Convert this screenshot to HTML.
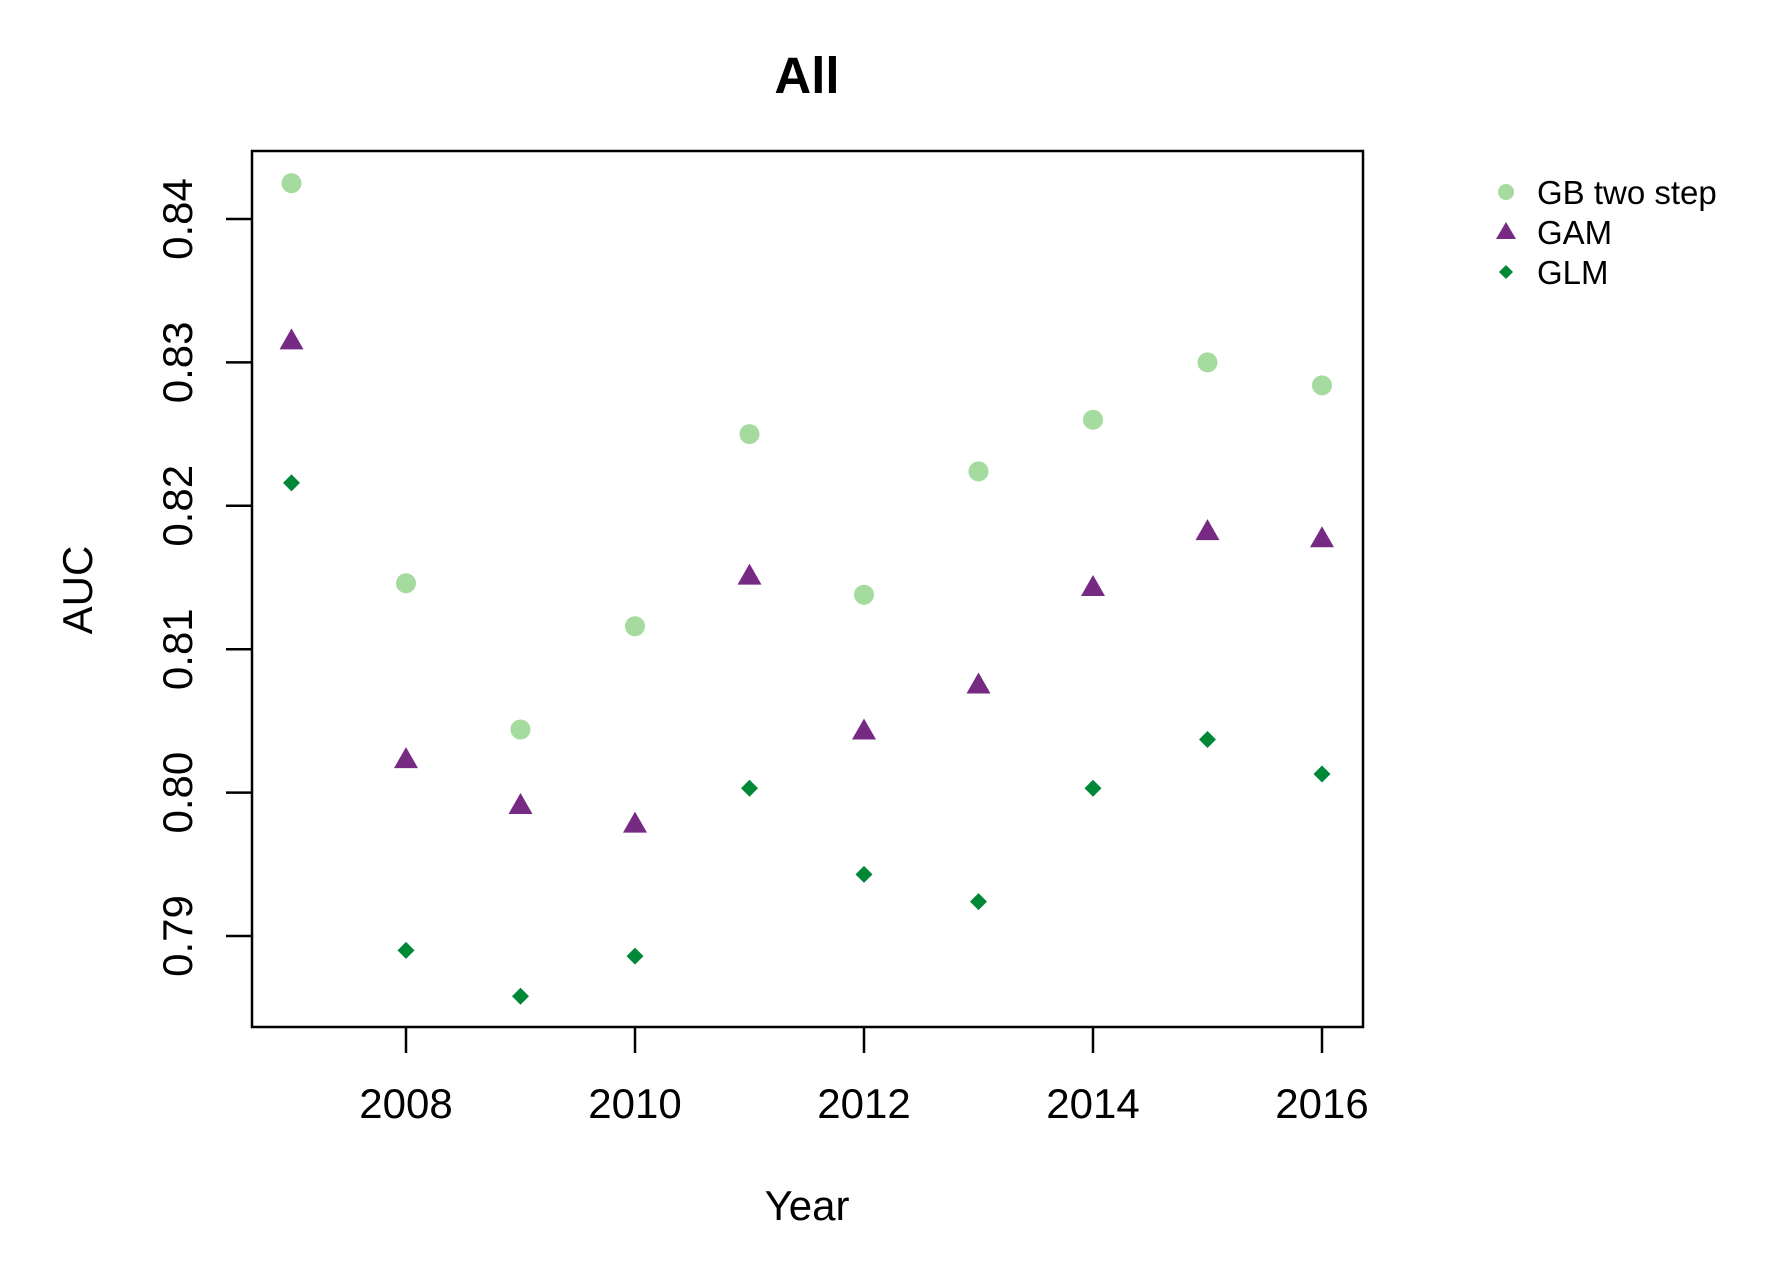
<!DOCTYPE html>
<html><head><meta charset="utf-8"><style>
html,body{margin:0;padding:0;background:#fff;}
svg{display:block;font-family:"Liberation Sans",Arial,sans-serif;}
</style></head><body>
<svg id="chart" width="1792" height="1280" viewBox="0 0 1792 1280" xmlns="http://www.w3.org/2000/svg">
<rect width="1792" height="1280" fill="#fff"/>
<text x="807" y="93" font-size="51" font-weight="bold" text-anchor="middle">All</text>
<rect x="252" y="151" width="1111" height="876" fill="none" stroke="#000" stroke-width="2.5"/>
<g id="xaxis"></g>
<g id="yaxis"></g>
<text x="807" y="1220" font-size="42" text-anchor="middle">Year</text>
<text transform="translate(92,590) rotate(-90)" font-size="42" text-anchor="middle">AUC</text>
<g id="points"></g>
<g>
<circle cx="1506" cy="192" r="8" fill="#a6dba0"/>
<text x="1537" y="204" font-size="33">GB two step</text>
<polygon points="1506,222 1516,239 1496,239" fill="#762a83"/>
<text x="1537" y="244" font-size="33">GAM</text>
<polygon points="1506,265 1513,272 1506,279 1499,272" fill="#008837"/>
<text x="1537" y="284" font-size="33">GLM</text>
</g>
</svg>
<script>
const years=[2007,2008,2009,2010,2011,2012,2013,2014,2015,2016];
const gbValues=[0.8425,0.8146,0.8044,0.8116,0.8250,0.8138,0.8224,0.8260,0.8300,0.8284];
const gamValues=[0.8315,0.8023,0.7991,0.7978,0.8151,0.8043,0.8075,0.8143,0.8182,0.8177];
const glmValues=[0.8216,0.7890,0.7858,0.7886,0.8003,0.7943,0.7924,0.8003,0.8037,0.8013];
const xTicks=[2008,2010,2012,2014,2016];
const yTicks=[0.79,0.80,0.81,0.82,0.83,0.84];
const yTickLabels=["0.79","0.80","0.81","0.82","0.83","0.84"];
const NS="http://www.w3.org/2000/svg";
function xs(v){return 406+(v-2008)*114.5;}
function ys(v){return 219+(0.84-v)*14340;}
function mk(tag,attrs,parent){const e=document.createElementNS(NS,tag);for(const k in attrs)e.setAttribute(k,attrs[k]);parent.appendChild(e);return e;}
const xa=document.getElementById('xaxis'),ya=document.getElementById('yaxis'),pg=document.getElementById('points');
xTicks.forEach(t=>{
  const l=mk('line',{x1:xs(t),x2:xs(t),y1:1027,y2:1053,stroke:'#000','stroke-width':2.5},xa);
  
  
  const tx=mk('text',{x:xs(t),y:1118,'font-size':42,'text-anchor':'middle'},xa);
  tx.textContent=t;
  
  
});
yTicks.forEach((t,i)=>{
  const l=mk('line',{x1:226,x2:252,y1:ys(t),y2:ys(t),stroke:'#000','stroke-width':2.5},ya);
  
  
  const tx=mk('text',{transform:'translate(192,'+ys(t)+') rotate(-90)','font-size':42,'text-anchor':'middle'},ya);
  tx.textContent=yTickLabels[i];
  
  
});
years.forEach((yr,i)=>{
  const x=xs(yr);
  let y=ys(gbValues[i]);
  const c=mk('circle',{cx:x,cy:y,r:10,fill:'#a6dba0'},pg);
  
  
  y=ys(gamValues[i]);
  const t=mk('polygon',{points:(x)+','+(y-12.5)+' '+(x+12)+','+(y+8.5)+' '+(x-12)+','+(y+8.5),fill:'#762a83'},pg);
  
  
  y=ys(glmValues[i]);
  const d=mk('polygon',{points:x+','+(y-8.5)+' '+(x+8.5)+','+y+' '+x+','+(y+8.5)+' '+(x-8.5)+','+y,fill:'#008837'},pg);
  
  
});
</script>
</body></html>
